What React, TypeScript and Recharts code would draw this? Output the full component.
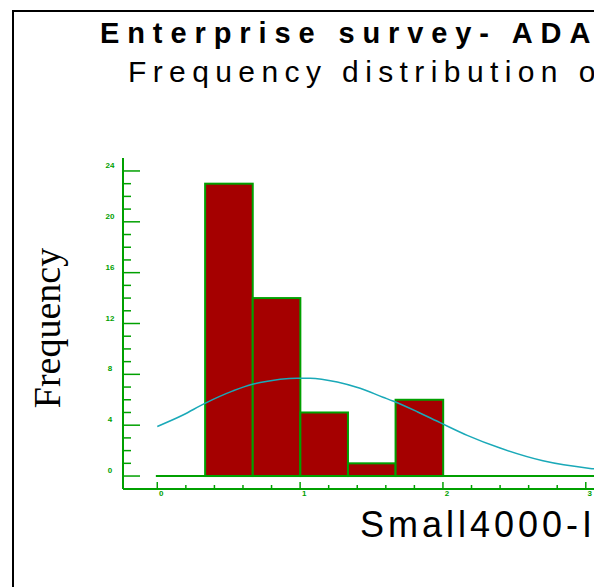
import React from 'react';
import { ComposedChart, Bar, Line, XAxis, YAxis, ReferenceLine } from 'recharts';

// histogram bins (width 1/3), centres and counts
const binCenters = [0.5, 0.8333, 1.1667, 1.5, 1.8333];
const binCounts = [23, 14, 5, 1, 6];
const BIN_WIDTH = 1 / 3;

// fitted normal curve
const curveX = [0, 0.18, 0.33, 0.53, 0.66, 0.72, 0.98, 1.07, 1.26, 1.42, 1.58, 1.65, 1.82, 1.98, 2.17, 2.4, 2.7, 3.03, 3.3];
const curveY = [3.9, 4.8, 5.7, 6.7, 7.2, 7.35, 7.7, 7.7, 7.4, 6.9, 6.2, 5.9, 5.06, 4.2, 3.2, 2.2, 1.2, 0.6, 0.35];

const yTicks = [0, 1, 2, 3, 4, 5, 6, 7, 8, 9, 10, 11, 12, 13, 14, 15, 16, 17, 18, 19, 20, 21, 22, 23, 24];
const yLabelTicks = [0, 4, 8, 12, 16, 20, 24];
const xTicks = [0, 0.2, 0.4, 0.6, 0.8, 1, 1.2, 1.4, 1.6, 1.8, 2, 2.2, 2.4, 2.6, 2.8, 3, 3.2, 3.4, 3.6, 3.8, 4];
const xLabelTicks = [0, 1, 2, 3, 4];

const barData = binCenters.map((x, i) => ({ x, count: binCounts[i] }));
const curveData = curveX.map((x, i) => ({ x, y: curveY[i] }));

const GREEN = '#00a000';
const RED = '#a50000';
const TEAL = '#1aa9b8';

const CHART_W = 1000;
const Y_AXIS_W = 123;
const X_MIN = -0.24;
const X_MAX = 5.9;
const PX_PER_UNIT = (CHART_W - Y_AXIS_W) / (X_MAX - X_MIN);

const YTick = (props: any) => {
  const { x, y, payload } = props;
  const major = yLabelTicks.includes(payload.value);
  return (
    <g>
      <line x1={x} x2={x + (major ? 17 : 8)} y1={y} y2={y} stroke={GREEN} strokeWidth={1.5} />
      {major && (
        <text x={x - 13} y={y - 3} textAnchor="middle" fontSize={8} fontWeight="bold" fill={GREEN} fontFamily="Liberation Sans, Arial">
          {payload.value}
        </text>
      )}
    </g>
  );
};

const XTick = (props: any) => {
  const { x, y, payload } = props;
  const major = xLabelTicks.includes(payload.value);
  return (
    <g>
      <line x1={x} x2={x} y1={y} y2={y - (major ? 7 : 4)} stroke={GREEN} strokeWidth={1.5} />
      {major && (
        <text x={x + 4} y={y + 7} textAnchor="middle" fontSize={8} fontWeight="bold" fill={GREEN} fontFamily="Liberation Sans, Arial">
          {payload.value}
        </text>
      )}
    </g>
  );
};

// histogram bar: full bin width around the bar's centre
const BinShape = (props: any) => {
  const { x, y, width, height } = props;
  const cx = x + width / 2;
  const w = BIN_WIDTH * PX_PER_UNIT;
  return <rect x={cx - w / 2} y={y} width={w} height={height} fill={RED} stroke={GREEN} strokeWidth={2} />;
};

const App = () => {
  return (
    <div style={{ position: 'fixed', left: 0, top: 0, width: 594, height: 587, overflow: 'hidden', background: '#fff' }}>
      <div style={{ position: 'absolute', left: 0, top: 0 }}>
        <ComposedChart width={CHART_W} height={587} data={barData} margin={{ top: 158, right: 0, bottom: 68, left: 0 }}>
          <XAxis
            type="number"
            dataKey="x"
            domain={[X_MIN, X_MAX]}
            ticks={xTicks}
            interval={0}
            tick={<XTick />}
            tickLine={false}
            tickSize={0}
            tickMargin={0}
            height={30}
            axisLine={{ stroke: GREEN, strokeWidth: 2 }}
            allowDataOverflow
          />
          <YAxis
            type="number"
            domain={[-1.02, 25.02]}
            ticks={yTicks}
            interval={0}
            tick={<YTick />}
            tickLine={false}
            tickSize={0}
            tickMargin={0}
            width={Y_AXIS_W}
            axisLine={{ stroke: GREEN, strokeWidth: 2 }}
            allowDataOverflow
          />
          <ReferenceLine segment={[{ x: -0.01, y: 0 }, { x: X_MAX, y: 0 }]} stroke={GREEN} strokeWidth={2} />
          <Bar dataKey="count" shape={<BinShape />} isAnimationActive={false} />
          <Line data={curveData} dataKey="y" type="monotone" stroke={TEAL} strokeWidth={1.5} dot={false} isAnimationActive={false} />
        </ComposedChart>
      </div>
      <svg width={594} height={587} style={{ position: 'absolute', left: 0, top: 0, pointerEvents: 'none' }}>
        <line x1={13} x2={13} y1={10} y2={587} stroke="#000" strokeWidth={2} />
        <line x1={12} x2={594} y1={11} y2={11} stroke="#000" strokeWidth={2} />
        <text x={100} y={43} fontFamily="Liberation Sans, Arial" fontWeight="bold" fontSize={29} letterSpacing={7.9} fill="#000">
          Enterprise survey- ADA
        </text>
        <text x={128} y={82} fontFamily="Liberation Sans, Arial" fontSize={30} letterSpacing={6.4} fill="#000">
          Frequency distribution of Small4000-Inv
        </text>
        <text x={360} y={537} fontFamily="Liberation Sans, Arial" fontSize={36} letterSpacing={4} fill="#000">
          Small4000-Inv
        </text>
        <text
          x={60}
          y={328}
          transform="rotate(-90, 60, 328)"
          textAnchor="middle"
          fontFamily="Liberation Serif, Times New Roman"
          fontSize={38}
          fill="#000"
        >
          Frequency
        </text>
      </svg>
    </div>
  );
};

export default App;
